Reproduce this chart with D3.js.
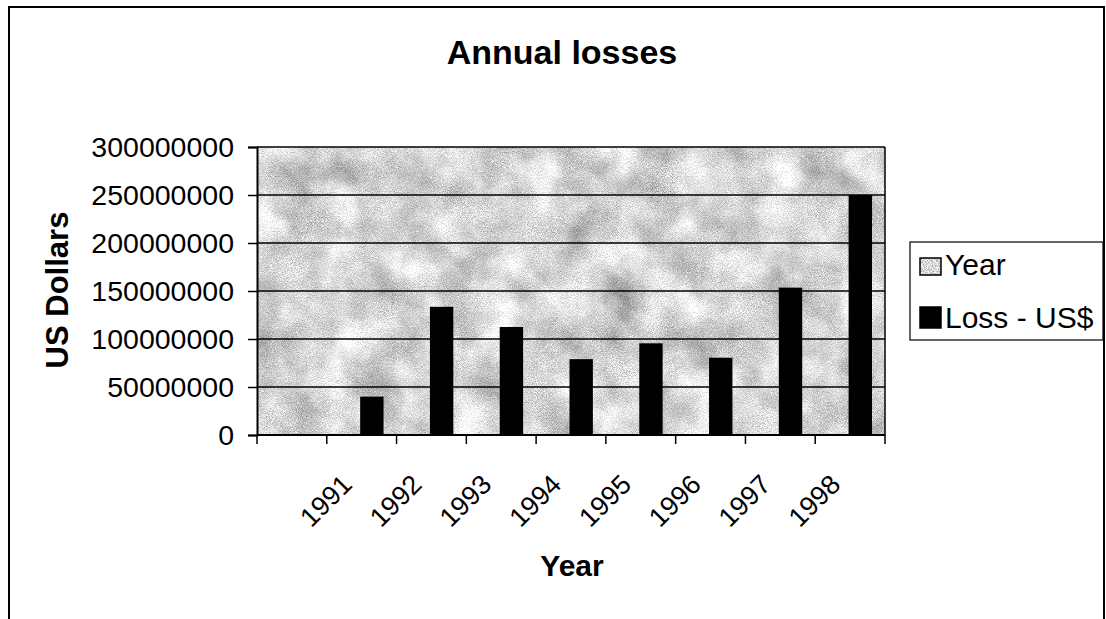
<!DOCTYPE html>
<html>
<head>
<meta charset="utf-8">
<script src="https://cdn.jsdelivr.net/npm/d3@7"></script>
<style>
  html, body { margin: 0; padding: 0; background: #fff; }
  svg { display: block; font-family: "Liberation Sans", Arial, sans-serif; }
</style>
</head>
<body>
<svg id="chart" width="1106" height="619"></svg>
<script>
// ---- data ----
const categories = ["", "1991", "1992", "1993", "1994", "1995", "1996", "1997", "1998"];
const seriesNames = ["Year", "Loss - US$"];
const yearValues = [null, 1991, 1992, 1993, 1994, 1995, 1996, 1997, 1998];
const lossValues = [null, 40000000, 133500000, 112500000, 79000000, 95500000, 80500000, 153500000, 250000000];
const yTicks = [0, 50000000, 100000000, 150000000, 200000000, 250000000, 300000000];
const titleText = "Annual losses";
const xTitle = "Year";
const yTitle = "US Dollars";

// ---- layout ----
const svg = d3.select("#chart");
const plot = { left: 257, right: 885, top: 147, bottom: 435 };

const defs = svg.append("defs");
const f = defs.append("filter").attr("id", "tex")
  .attr("x", 0).attr("y", 0).attr("width", 1).attr("height", 1)
  .attr("color-interpolation-filters", "sRGB");
f.append("feTurbulence").attr("type", "fractalNoise").attr("baseFrequency", "0.025")
  .attr("numOctaves", 3).attr("seed", 3).attr("result", "low");
f.append("feTurbulence").attr("type", "fractalNoise").attr("baseFrequency", "1.2")
  .attr("numOctaves", 1).attr("seed", 7).attr("result", "high");
f.append("feComposite").attr("in", "low").attr("in2", "high").attr("operator", "arithmetic")
  .attr("k1", 0).attr("k2", 0.45).attr("k3", 0.55).attr("k4", 0).attr("result", "mix");
f.append("feColorMatrix").attr("in", "mix").attr("type", "matrix")
  .attr("values", "1.1 0 0 0 0.28  1.1 0 0 0 0.28  1.1 0 0 0 0.28  0 0 0 0 1");

const fl = defs.append("filter").attr("id", "texsw")
  .attr("x", 0).attr("y", 0).attr("width", 1).attr("height", 1)
  .attr("color-interpolation-filters", "sRGB");
fl.append("feTurbulence").attr("type", "fractalNoise").attr("baseFrequency", "1.2")
  .attr("numOctaves", 1).attr("seed", 5);
fl.append("feColorMatrix").attr("type", "matrix")
  .attr("values", "1.1 0 0 0 0.3  1.1 0 0 0 0.3  1.1 0 0 0 0.3  0 0 0 0 1");

// outer chart frame
svg.append("rect").attr("x", 9).attr("y", 7).attr("width", 1095).attr("height", 640)
  .attr("fill", "none").attr("stroke", "#000").attr("stroke-width", 2);

// scales
const x0 = d3.scaleBand().domain(categories).range([plot.left, plot.right]).padding(0);
const x1 = d3.scaleBand().domain(seriesNames)
  .range([x0.bandwidth() * 0.165, x0.bandwidth() * 0.835]).padding(0);
const y = d3.scaleLinear().domain([0, 300000000]).range([plot.bottom, plot.top]);

// plot area background
svg.append("rect").attr("x", plot.left).attr("y", plot.top)
  .attr("width", plot.right - plot.left).attr("height", plot.bottom - plot.top)
  .attr("fill", "#d6d6d6").attr("filter", "url(#tex)");

// gridlines
svg.append("g").selectAll("line").data(yTicks.filter(d => d > 0)).join("line")
  .attr("x1", plot.left).attr("x2", plot.right)
  .attr("y1", d => y(d)).attr("y2", d => y(d))
  .attr("stroke", "#000").attr("stroke-width", 1.5);

// plot right border
svg.append("line").attr("x1", plot.right).attr("x2", plot.right)
  .attr("y1", plot.top).attr("y2", plot.bottom).attr("stroke", "#000").attr("stroke-width", 1.5);

// bars
const barData = [];
categories.forEach((c, i) => {
  if (yearValues[i] != null) barData.push({ cat: c, s: seriesNames[0], v: yearValues[i] });
  if (lossValues[i] != null) barData.push({ cat: c, s: seriesNames[1], v: lossValues[i] });
});
svg.append("g").selectAll("rect").data(barData).join("rect")
  .attr("x", d => x0(d.cat) + x1(d.s) - 1.5)
  .attr("width", x1.bandwidth())
  .attr("y", d => y(d.v))
  .attr("height", d => y(0) - y(d.v))
  .attr("fill", d => d.s === seriesNames[1] ? "#000" : "#ddd");

// y axis
const yAxis = d3.axisLeft(y).tickValues(yTicks).tickSize(9).tickPadding(14)
  .tickFormat(d3.format("d"));
const gy = svg.append("g").attr("transform", `translate(${plot.left},0)`).call(yAxis);
gy.select(".domain").attr("stroke", "#000").attr("stroke-width", 2);
gy.selectAll(".tick line").attr("stroke", "#000").attr("stroke-width", 1.5);
gy.selectAll(".tick text").attr("font-size", 28.5).attr("fill", "#000")
  .attr("font-family", "Liberation Sans, Arial, sans-serif");

// x axis (ticks between categories)
const gx = svg.append("g").attr("transform", `translate(0,${plot.bottom})`);
gx.append("line").attr("x1", plot.left).attr("x2", plot.right).attr("y1", 0).attr("y2", 0)
  .attr("stroke", "#000").attr("stroke-width", 2);
const bounds = categories.map(c => x0(c)).concat([plot.right]);
gx.selectAll("line.tk").data(bounds).join("line").attr("class", "tk")
  .attr("x1", d => d).attr("x2", d => d).attr("y1", 0).attr("y2", 9)
  .attr("stroke", "#000").attr("stroke-width", 1.5);
gx.selectAll("text.lbl").data(categories.filter(c => c !== "")).join("text").attr("class", "lbl")
  .attr("transform", d => `translate(${x0(d) + x0.bandwidth() / 2 - 8},${51}) rotate(-45)`)
  .attr("text-anchor", "end")
  .attr("font-size", 27)
  .attr("fill", "#000")
  .text(d => d);

// titles
svg.append("text").attr("x", 562).attr("y", 64).attr("text-anchor", "middle")
  .attr("font-size", 34).attr("font-weight", "bold").text(titleText);
svg.append("text").attr("x", 572).attr("y", 576).attr("text-anchor", "middle")
  .attr("font-size", 30).attr("font-weight", "bold").text(xTitle);
svg.append("text").attr("transform", "translate(68,290) rotate(-90)").attr("text-anchor", "middle")
  .attr("font-size", 31).attr("font-weight", "bold").text(yTitle);

// legend
const lg = svg.append("g");
lg.append("rect").attr("x", 910).attr("y", 242).attr("width", 193).attr("height", 98)
  .attr("fill", "#fff").attr("stroke", "#000").attr("stroke-width", 1.2);
const legendRows = [
  { name: seriesNames[0], y: 258, h: 17, fill: "#ccc", filter: "url(#texsw)" },
  { name: seriesNames[1], y: 307, h: 21, fill: "#000", filter: null }
];
legendRows.forEach(r => {
  lg.append("rect").attr("x", 920).attr("y", r.y).attr("width", 21).attr("height", r.h)
    .attr("fill", r.fill).attr("stroke", "#000").attr("stroke-width", 1.5);
  if (r.filter) {
    lg.append("rect").attr("x", 921.5).attr("y", r.y + 1.5).attr("width", 18).attr("height", r.h - 3)
      .attr("filter", r.filter);
  }
  lg.append("text").attr("x", 945).attr("y", r.y + r.h).attr("font-size", 30).attr("fill", "#000")
    .text(r.name);
});
</script>
</body>
</html>
